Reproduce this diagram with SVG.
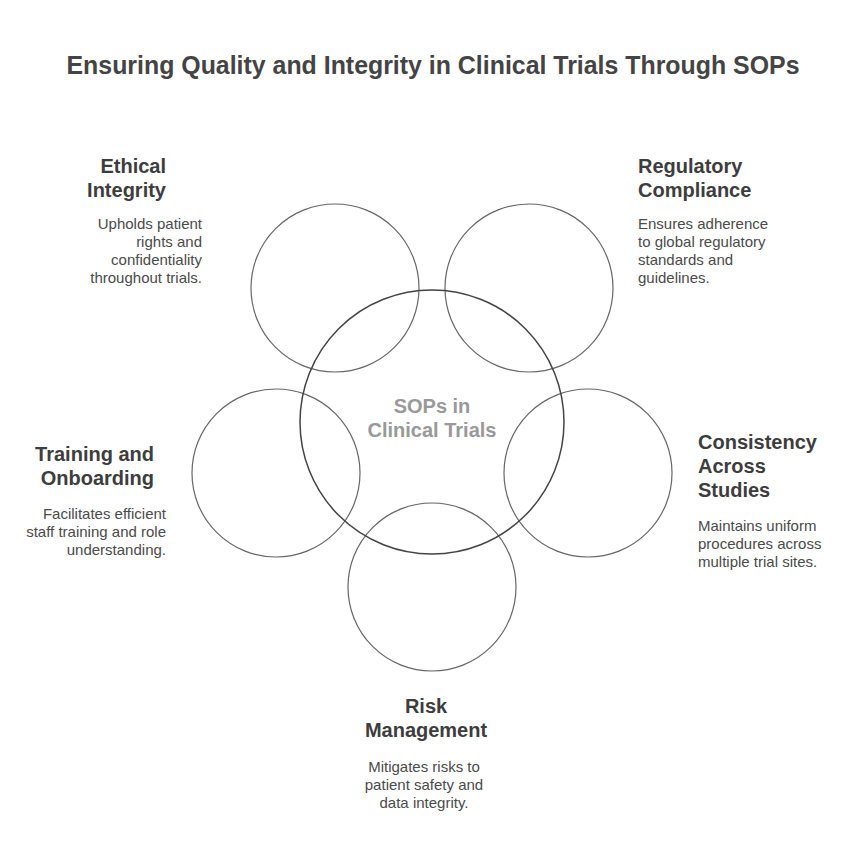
<svg xmlns="http://www.w3.org/2000/svg" width="865" height="852" viewBox="0 0 865 852">
<style>
.c{fill:none;stroke:#666;stroke-width:1.2}
.cc{fill:none;stroke:#444;stroke-width:1.5}
.t{font-family:"Liberation Sans",Arial,sans-serif;font-weight:bold;font-size:20px;fill:#3d3d3d}
.d{font-family:"Liberation Sans",Arial,sans-serif;font-size:15px;fill:#4a4a4a}
.h{font-family:"Liberation Sans",Arial,sans-serif;font-weight:bold;font-size:24.9px;fill:#444}
.m{font-family:"Liberation Sans",Arial,sans-serif;font-weight:bold;font-size:20px;fill:#999}
</style>
<rect width="865" height="852" fill="#fff"/>
<text class="h" x="433" y="74" text-anchor="middle">Ensuring Quality and Integrity in Clinical Trials Through SOPs</text>
<g id="connectors"></g>
<g id="ethical">
<circle class="c" cx="335" cy="288" r="84"/>
<text class="t" text-anchor="end"><tspan x="166" y="173">Ethical</tspan><tspan x="166" y="197">Integrity</tspan></text>
<text class="d" text-anchor="end"><tspan x="202" y="229">Upholds patient</tspan><tspan x="202" y="247">rights and</tspan><tspan x="202" y="265">confidentiality</tspan><tspan x="202" y="283">throughout trials.</tspan></text>
</g>
<g id="regulatory">
<circle class="c" cx="529" cy="288" r="84"/>
<text class="t"><tspan x="638" y="173">Regulatory</tspan><tspan x="638" y="197">Compliance</tspan></text>
<text class="d"><tspan x="638" y="229">Ensures adherence</tspan><tspan x="638" y="247">to global regulatory</tspan><tspan x="638" y="265">standards and</tspan><tspan x="638" y="283">guidelines.</tspan></text>
</g>
<g id="training">
<circle class="c" cx="276" cy="473" r="84"/>
<text class="t" text-anchor="end"><tspan x="154" y="461">Training and</tspan><tspan x="154" y="485">Onboarding</tspan></text>
<text class="d" text-anchor="end"><tspan x="166" y="519">Facilitates efficient</tspan><tspan x="166" y="537">staff training and role</tspan><tspan x="166" y="555">understanding.</tspan></text>
</g>
<g id="consistency">
<circle class="c" cx="588" cy="473" r="84"/>
<text class="t"><tspan x="698" y="449">Consistency</tspan><tspan x="698" y="473">Across</tspan><tspan x="698" y="497">Studies</tspan></text>
<text class="d"><tspan x="698" y="531">Maintains uniform</tspan><tspan x="698" y="549">procedures across</tspan><tspan x="698" y="567">multiple trial sites.</tspan></text>
</g>
<g id="risk">
<circle class="c" cx="432" cy="587" r="84"/>
<text class="t" text-anchor="middle"><tspan x="426" y="713">Risk</tspan><tspan x="426" y="737">Management</tspan></text>
<text class="d" text-anchor="middle"><tspan x="424" y="772">Mitigates risks to</tspan><tspan x="424" y="790">patient safety and</tspan><tspan x="424" y="808">data integrity.</tspan></text>
</g>
<g id="center">
<circle class="cc" cx="432" cy="422" r="132"/>
<text class="m" text-anchor="middle"><tspan x="432" y="413">SOPs in</tspan><tspan x="432" y="437">Clinical Trials</tspan></text>
</g>
</svg>
